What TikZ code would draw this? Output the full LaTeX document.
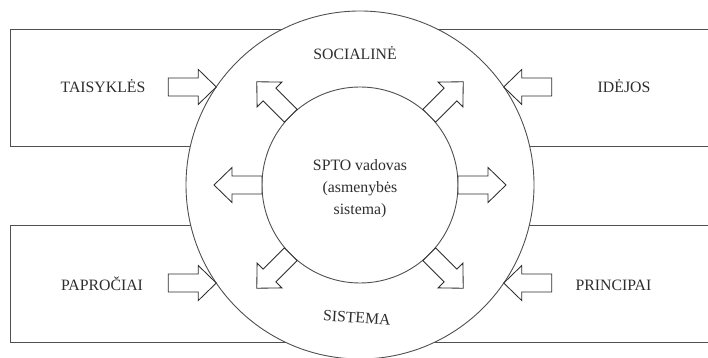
\documentclass[tikz,border=0pt]{standalone}
\usepackage{fontspec}
\setmainfont{Liberation Serif}
\usetikzlibrary{calc}
\definecolor{ink}{HTML}{2E2E2E}
\definecolor{rule}{HTML}{505050}
\newcommand\lblfont{\fontsize{15.8}{22}\selectfont}
\tikzset{
  frame/.style={draw=rule, line width=0.9pt},
  ring/.style={circle, draw=rule, line width=0.9pt, fill=white, inner sep=0pt},
  lbl/.style={text=ink, font=\lblfont, inner sep=0pt, anchor=base},
  arrowline/.style={draw=ink, line width=0.85pt, fill=white, line join=miter},
  % hollow block arrow: base at the origin, tip 48 units along +x
  blockarrow/.pic={\draw[arrowline] (0,-9) -- (30,-9) -- (30,-17.5) -- (48,0)
                   -- (30,17.5) -- (30,9) -- (0,9) -- cycle;}
}
\begin{document}
\begin{tikzpicture}[x=1pt,y=1pt]
\useasboundingbox (0,0) rectangle (708,358);
\clip (0,0) rectangle (708,358);
\fill[white] (0,0) rectangle (708,358);
\coordinate (C) at (360,173);

% the four frames, partly covered by the ring
\draw[frame] (10,212) rectangle (330,329);
\draw[frame] (10,16) rectangle (330,133);
\draw[frame] (390,212) rectangle (730,329);
\draw[frame] (390,16) rectangle (730,133);

% social system (outer) and personality system (inner)
\node[ring, minimum size=348pt] (outer) at (C) {};
\node[ring, minimum size=196pt] (inner) at (C) {};

% influences from outside pointing at the outer ring
\pic at ($(C)+(145.7:174)-(48,0)$) {blockarrow};
\pic[rotate=180] at ($(C)+(34.3:174)+(48,0)$) {blockarrow};
\pic at ($(C)+(214.3:174)-(48,0)$) {blockarrow};
\pic[rotate=180] at ($(C)+(-34.3:174)+(48,0)$) {blockarrow};

% outputs from the inner ring
\foreach \a in {0,45,135,180,225,315}
  \pic[rotate=\a] at ($(C)+(\a:98)$) {blockarrow};

% labels
\node[lbl] (taisykles) at (103,265) {TAISYKLĖS};
\node[lbl] (idejos) at (624,265) {IDĖJOS};
\node[lbl] (paprociai) at (102,67) {PAPROČIAI};
\node[lbl] (principai) at (613.5,67) {PRINCIPAI};
\node[lbl, align=center] (leader) at (360,143.5)
  {SPTO vadovas\\(asmenybės\\sistema)};

% titles of the outer ring
\node[lbl] (socialine) at (355,298) {SOCIALINĖ};
\node[lbl, rotate=-3.7] (sistema) at (356.5,35) {SISTEMA};
\end{tikzpicture}
\end{document}
